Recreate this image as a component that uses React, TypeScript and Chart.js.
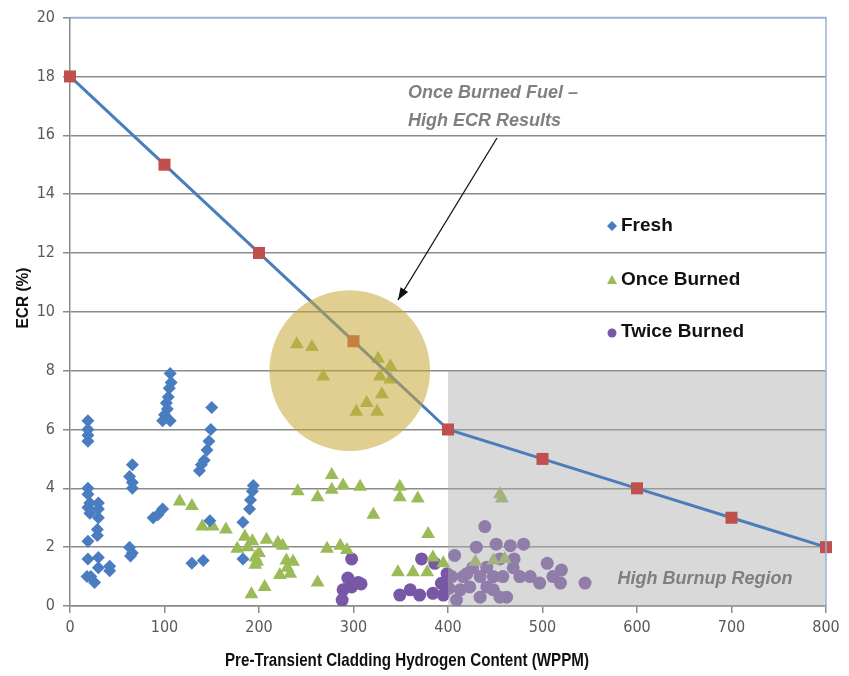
import React, { useEffect, useRef } from "react";
import { Chart, registerables } from "chart.js";

Chart.register(...registerables);

// ECR limit curve (WPPM vs %)
const limitX = [0, 100, 200, 300, 400, 500, 600, 700, 800];
const limitY = [18, 15, 12, 9, 6, 5, 4, 3, 2];

// Fresh fuel results
const freshX = [19, 19, 19, 19, 19, 19, 21, 19, 21, 30, 30, 30, 29, 29, 19, 19, 30, 30, 18, 22, 26, 42, 42,
  66, 63, 66, 66, 63, 66, 64, 88, 93, 98,
  106, 107, 105, 104, 102, 100, 98, 106, 103,
  150, 149, 147, 145, 142, 139, 137, 129, 141,
  194, 193, 191, 190, 183, 148, 183];
const freshY = [6.3, 6.0, 5.8, 5.6, 4.0, 3.8, 3.5, 3.35, 3.15, 3.5, 3.3, 3.0, 2.6, 2.4, 2.2, 1.6, 1.65, 1.3, 1.0, 1.0, 0.8, 1.2, 1.35,
  4.8, 4.4, 4.2, 4.0, 2.0, 1.8, 1.7, 3.0, 3.1, 3.3,
  7.9, 7.6, 7.4, 7.1, 6.9, 6.5, 6.3, 6.3, 6.7,
  6.75, 6.0, 5.6, 5.3, 4.95, 4.8, 4.6, 1.45, 1.55,
  4.1, 3.9, 3.6, 3.3, 2.85, 2.9, 1.6];

// Once burned fuel results
const onceX = [240, 256, 268, 326, 339, 328, 339, 330, 314, 325, 303,
  116, 129, 140, 151, 165, 177, 185, 193, 196, 196, 192, 206, 208, 220, 225, 229, 222, 236, 233, 230, 188, 200, 198,
  241, 262, 277, 277, 289, 307, 321, 349, 349, 368, 379,
  262, 272, 286, 293, 347, 363, 378, 384, 395, 429, 448, 460, 455, 457];
const onceY = [8.9, 8.8, 7.8, 8.4, 8.15, 7.8, 7.7, 7.2, 6.9, 6.6, 6.6,
  3.55, 3.4, 2.7, 2.7, 2.6, 1.95, 2.35, 2.2, 1.65, 1.4, 0.4, 0.65, 2.25, 2.15, 2.05, 1.55, 1.05, 1.5, 1.1, 1.3, 2.0, 1.8, 1.5,
  3.9, 3.7, 4.45, 3.95, 4.1, 4.05, 3.1, 4.05, 3.7, 3.65, 2.45,
  0.8, 1.95, 2.05, 1.9, 1.15, 1.15, 1.15, 1.65, 1.45, 1.5, 1.55, 1.6, 3.8, 3.65];

// Twice burned fuel results
const twiceX = [298, 294, 305, 289, 288, 298, 308,
  349, 360, 370, 372, 386, 384, 395, 393, 399, 407, 404, 413, 416, 409,
  439, 430, 451, 466, 480, 434, 434, 448, 448, 458, 462, 469, 476, 487, 497, 505, 511, 520, 519,
  423, 441, 420, 441, 545, 455, 470, 426, 455, 401];
const twiceY = [1.6, 0.95, 0.8, 0.55, 0.2, 0.65, 0.75,
  0.37, 0.55, 0.37, 1.6, 1.45, 0.43, 0.37, 0.77, 1.1, 1.72, 1.0, 0.55, 1.0, 0.2,
  2.7, 2.0, 2.1, 2.05, 2.1, 1.0, 0.3, 1.0, 0.55, 1.0, 0.3, 1.3, 1.0, 1.0, 0.78, 1.45, 1.0, 1.22, 0.78,
  0.65, 0.65, 1.1, 1.32, 0.78, 1.6, 1.6, 1.3, 0.3, 0.6];

const xTicks = [0, 100, 200, 300, 400, 500, 600, 700, 800];
const yTicks = [0, 2, 4, 6, 8, 10, 12, 14, 16, 18, 20];

const xTitle = "Pre-Transient Cladding Hydrogen Content (WPPM)";
const yTitle = "ECR (%)";

// High burnup region bounds and highlighted cluster
const regionX = [400, 800];
const regionY = [0, 8];
const highlight = { x: 296, y: 8.0, r: 85 };

const BLUE = "#4A7DC0";
const GREEN = "#9BBB59";
const PURPLE = "#7858A6";
const LINE = "#4A7EBB";
const RED = "#C0504D";
const NARROW = "'Liberation Sans Narrow', 'DejaVu Sans Condensed', 'Liberation Sans', sans-serif";
const SANS = "'Liberation Sans', Arial, sans-serif";

const pts = (xs: number[], ys: number[]) => xs.map((x, i) => ({ x, y: ys[i] }));

// draws text squeezed to a given width (condensed look)
function fitText(ctx: CanvasRenderingContext2D, text: string, x: number, y: number, width: number, rot = 0) {
  const w = ctx.measureText(text).width;
  ctx.save();
  ctx.translate(x, y);
  ctx.rotate(rot);
  ctx.scale(width / w, 1);
  ctx.textAlign = "center";
  ctx.textBaseline = "middle";
  ctx.fillText(text, 0, 0);
  ctx.restore();
}

const overlays = {
  id: "overlays",
  beforeDatasetDraw(chart: any, args: any) {
    if (args.index !== 3) return;
    const { ctx, scales } = chart;
    const x0 = scales.x.getPixelForValue(regionX[0]);
    const x1 = scales.x.getPixelForValue(regionX[1]);
    const y0 = scales.y.getPixelForValue(regionY[1]);
    const y1 = scales.y.getPixelForValue(regionY[0]);
    ctx.save();
    ctx.fillStyle = "rgba(172,170,172,0.45)";
    ctx.fillRect(x0, y0, x1 - x0, y1 - y0);
    ctx.restore();
  },
  afterDatasetsDraw(chart: any) {
    const { ctx, scales, chartArea } = chart;
    ctx.save();
    // highlighted cluster
    const cx = scales.x.getPixelForValue(highlight.x);
    const cy = scales.y.getPixelForValue(highlight.y);
    const r = scales.x.getPixelForValue(highlight.r) - scales.x.getPixelForValue(0);
    ctx.fillStyle = "rgba(200,166,55,0.55)";
    ctx.beginPath();
    ctx.arc(cx, cy, r, 0, Math.PI * 2);
    ctx.fill();

    // plot frame, top and right
    ctx.strokeStyle = "#95b3d7";
    ctx.lineWidth = 1.5;
    ctx.beginPath();
    ctx.moveTo(chartArea.left, chartArea.top);
    ctx.lineTo(chartArea.right, chartArea.top);
    ctx.lineTo(chartArea.right, chartArea.bottom);
    ctx.stroke();

    // callout
    ctx.fillStyle = "#7f7f7f";
    ctx.font = `italic bold 18px ${SANS}`;
    ctx.textBaseline = "middle";
    ctx.textAlign = "left";
    ctx.fillText("Once Burned Fuel –", 408, 93);
    ctx.fillText("High ECR Results", 408, 121);

    const ax0 = 497, ay0 = 138, ax1 = 398, ay1 = 300;
    ctx.strokeStyle = "#111";
    ctx.lineWidth = 1.3;
    ctx.beginPath();
    ctx.moveTo(ax0, ay0);
    ctx.lineTo(ax1, ay1);
    ctx.stroke();
    const ang = Math.atan2(ay1 - ay0, ax1 - ax0);
    ctx.fillStyle = "#111";
    ctx.beginPath();
    ctx.moveTo(ax1, ay1);
    ctx.lineTo(ax1 - 13 * Math.cos(ang - 0.35), ay1 - 13 * Math.sin(ang - 0.35));
    ctx.lineTo(ax1 - 13 * Math.cos(ang + 0.35), ay1 - 13 * Math.sin(ang + 0.35));
    ctx.closePath();
    ctx.fill();

    ctx.fillStyle = "#7f7f7f";
    ctx.font = `italic bold 18px ${SANS}`;
    ctx.textAlign = "center";
    ctx.fillText("High Burnup Region", 705, 579);

    // legend
    const items = [
      { label: "Fresh", color: BLUE, style: "rectRot", y: 226 },
      { label: "Once Burned", color: GREEN, style: "triangle", y: 280 },
      { label: "Twice Burned", color: PURPLE, style: "circle", y: 332 },
    ];
    ctx.font = `bold 19px ${SANS}`;
    ctx.textAlign = "left";
    for (const it of items) {
      ctx.fillStyle = it.color;
      ctx.beginPath();
      if (it.style === "rectRot") {
        ctx.moveTo(612, it.y - 5);
        ctx.lineTo(617, it.y);
        ctx.lineTo(612, it.y + 5);
        ctx.lineTo(607, it.y);
      } else if (it.style === "triangle") {
        ctx.moveTo(612, it.y - 5);
        ctx.lineTo(617, it.y + 4);
        ctx.lineTo(607, it.y + 4);
      } else {
        ctx.arc(612, it.y + 1, 4.5, 0, Math.PI * 2);
      }
      ctx.closePath();
      ctx.fill();
      ctx.fillStyle = "#111";
      ctx.fillText(it.label, 621, it.y);
    }

    // axis titles
    ctx.fillStyle = "#111";
    ctx.font = `bold 19px ${SANS}`;
    fitText(ctx, xTitle, (chartArea.left + chartArea.right) / 2 - 41, 661, 364);
    ctx.font = `bold 17px ${SANS}`;
    fitText(ctx, yTitle, 23, 298, 61, -Math.PI / 2);
    ctx.restore();
  },
};

export default function App() {
  const ref = useRef<HTMLCanvasElement>(null);
  useEffect(() => {
    document.body.style.margin = "0";
    const chart = new Chart(ref.current!, {
      type: "scatter",
      data: {
        datasets: [
          { label: "Fresh", data: pts(freshX, freshY), pointStyle: "rectRot", pointRadius: 6.5, backgroundColor: BLUE, borderWidth: 0, order: 1 },
          { label: "Once Burned", data: pts(onceX, onceY), pointStyle: "triangle", pointRadius: 8, backgroundColor: GREEN, borderWidth: 0, order: 1 },
          { label: "Twice Burned", data: pts(twiceX, twiceY), pointStyle: "circle", pointRadius: 6.5, backgroundColor: PURPLE, borderWidth: 0, order: 1 },
          {
            label: "Limit", data: pts(limitX, limitY), showLine: true, borderColor: LINE, borderWidth: 3,
            pointStyle: "rect", pointRadius: 8.5, pointBackgroundColor: RED, pointBorderWidth: 0,
            backgroundColor: RED, order: 0, clip: 20,
          } as any,
        ],
      },
      options: {
        responsive: false,
        animation: false,
        layout: { padding: { top: 16, right: 23, left: 0, bottom: 0 } },
        plugins: { legend: { display: false }, tooltip: { enabled: false } },
        scales: {
          x: {
            type: "linear", min: 0, max: 800,
            afterFit: (s: any) => { s.height = 70; },
            afterBuildTicks: (s: any) => { s.ticks = xTicks.map((v) => ({ value: v })); },
            ticks: { color: "#595959", font: { family: NARROW, size: 16 }, padding: 5 },
            grid: { drawOnChartArea: false, drawTicks: true, tickLength: 7, color: "#8a8a8a", lineWidth: 1.5 },
            border: { color: "#8a8a8a", width: 1.5 },
            title: { display: false },
          },
          y: {
            type: "linear", min: 0, max: 20,
            afterFit: (s: any) => { s.width = 70; },
            afterBuildTicks: (s: any) => { s.ticks = yTicks.map((v) => ({ value: v })); },
            ticks: { color: "#595959", font: { family: NARROW, size: 16 }, padding: 8 },
            grid: { color: "#8a8a8a", lineWidth: 1.5, tickLength: 7 },
            border: { color: "#8a8a8a", width: 1.5 },
            title: { display: false },
          },
        },
      },
      plugins: [overlays],
    });
    return () => chart.destroy();
  }, []);
  return <canvas ref={ref} width={849} height={676} />;
}
